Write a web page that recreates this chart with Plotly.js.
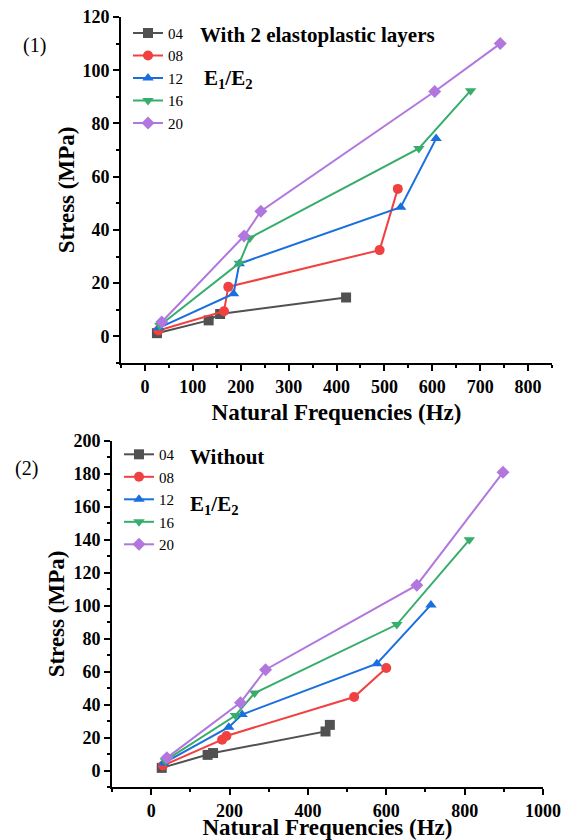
<!DOCTYPE html>
<html>
<head>
<meta charset="utf-8">
<script src="https://cdn.plot.ly/plotly-3.0.1.min.js"></script>
<style>html,body{margin:0;padding:0;background:#fff;}#chart{width:569px;height:840px;}</style>
</head>
<body>
<div id="chart"></div>
<script>
// ---- data: panel (1) with 2 elastoplastic layers ----
const seriesNames = ['04', '08', '12', '16', '20'];
const top04x = [25, 133, 157, 420];
const top04y = [1.2, 6, 8.4, 14.6];
const top08x = [28, 165, 174, 490, 528];
const top08y = [2.2, 9.4, 18.6, 32.4, 55.4];
const top12x = [29, 185, 197, 534, 608];
const top12y = [3.2, 16, 27.3, 48.5, 74.3];
const top16x = [31, 197, 219, 572, 680];
const top16y = [4.1, 27.5, 37, 70.6, 92.3];
const top20x = [35, 207, 242, 605, 742];
const top20y = [5.4, 37.7, 47, 92, 110];
// ---- data: panel (2) without ----
const bot04x = [27, 144, 158, 445, 456];
const bot04y = [1.6, 9.5, 10.6, 23.7, 27.7];
const bot08x = [30, 181, 192, 518, 600];
const bot08y = [3, 18.7, 21, 44.6, 62.2];
const bot12x = [32, 198, 232, 576, 714];
const bot12y = [4.5, 26.3, 34, 64.8, 100.5];
const bot16x = [36, 215, 264, 627, 812];
const bot16y = [6, 33.4, 47, 88.6, 140];
const bot20x = [40, 228, 292, 678, 898];
const bot20y = [7.7, 41.2, 61.2, 112.5, 181];

const colors = ['#515151', '#F14040', '#1A6FDF', '#37AD6B', '#B177DE'];
const symbols = ['square', 'circle', 'triangle-up', 'triangle-down', 'diamond'];

const topX = [top04x, top08x, top12x, top16x, top20x];
const topY = [top04y, top08y, top12y, top16y, top20y];
const botX = [bot04x, bot08x, bot12x, bot16x, bot20x];
const botY = [bot04y, bot08y, bot12y, bot16y, bot20y];

const traces = [];
for (let i = 0; i < 5; i++) {
  traces.push({
    x: topX[i], y: topY[i], name: seriesNames[i], type: 'scatter', mode: 'lines+markers',
    xaxis: 'x', yaxis: 'y', legend: 'legend',
    line: {color: colors[i], width: 2}, marker: {symbol: symbols[i], size: 10, color: colors[i]}
  });
}
for (let i = 0; i < 5; i++) {
  traces.push({
    x: botX[i], y: botY[i], name: seriesNames[i], type: 'scatter', mode: 'lines+markers',
    xaxis: 'x2', yaxis: 'y2', legend: 'legend2',
    line: {color: colors[i], width: 2}, marker: {symbol: symbols[i], size: 10, color: colors[i]}
  });
}

const serif = 'Liberation Serif';
const tickFont = {family: serif, size: 18, color: '#000', weight: 'bold'};
const titleFont = {family: serif, size: 23, color: '#000', weight: 'bold'};
const minorTicks = {ticks: 'outside', ticklen: 3, tickwidth: 2, tickcolor: '#000', tick0: 0};

function ax(extra) {
  return Object.assign({
    showline: true, linecolor: '#000', linewidth: 2, ticks: 'outside', ticklen: 6, tickwidth: 2,
    tickcolor: '#000', showgrid: false, zeroline: false, tickfont: tickFont, mirror: false
  }, extra);
}

const layout = {
  width: 569, height: 840, margin: {l: 0, r: 0, t: 0, b: 0},
  paper_bgcolor: '#fff', plot_bgcolor: '#fff',
  font: {family: serif, color: '#000'},
  xaxis: ax({domain: [0.2127, 0.9701], anchor: 'y', range: [-50, 850], dtick: 100, tick0: 0,
    minor: Object.assign({dtick: 50}, minorTicks),
    title: {text: 'Natural Frequencies (Hz)', font: titleFont, standoff: 8}}),
  yaxis: ax({domain: [0.5679, 0.9798], anchor: 'x', range: [-10, 120], dtick: 20, tick0: 0,
    minor: Object.assign({dtick: 10}, minorTicks),
    title: {text: 'Stress (MPa)', font: titleFont, standoff: 1}}),
  xaxis2: ax({domain: [0.1968, 0.9543], anchor: 'y2', range: [-100, 1000], dtick: 200, tick0: 0,
    minor: Object.assign({dtick: 100}, minorTicks),
    title: {text: 'Natural Frequencies (Hz)', font: titleFont, standoff: 6}}),
  yaxis2: ax({domain: [0.0631, 0.475], anchor: 'x2', range: [-10, 200], dtick: 20, tick0: 0,
    minor: Object.assign({dtick: 10}, minorTicks),
    title: {text: 'Stress (MPa)', font: titleFont, standoff: 2}}),
  legend: {x: 128 / 569, y: 0.9800, xanchor: 'left', yanchor: 'top', bgcolor: 'rgba(0,0,0,0)',
    font: {family: serif, size: 15, color: '#000'}, itemwidth: 30, tracegroupgap: 0},
  legend2: {x: 119 / 569, y: 0.4785, xanchor: 'left', yanchor: 'top', bgcolor: 'rgba(0,0,0,0)',
    font: {family: serif, size: 15, color: '#000'}, itemwidth: 30, tracegroupgap: 0},
  annotations: [
    {text: '(1)', xref: 'paper', yref: 'paper', x: 21 / 569, y: 1 - 45 / 840, xanchor: 'left', yanchor: 'middle',
      showarrow: false, font: {family: serif, size: 20, color: '#000'}},
    {text: 'With 2 elastoplastic layers', xref: 'paper', yref: 'paper', x: 198 / 569, y: 1 - 35 / 840,
      xanchor: 'left', yanchor: 'middle', showarrow: false, font: {family: serif, size: 21, color: '#000', weight: 'bold'}},
    {text: 'E<sub>1</sub>/E<sub>2</sub>', xref: 'paper', yref: 'paper', x: 202 / 569, y: 1 - 79 / 840,
      xanchor: 'left', yanchor: 'middle', showarrow: false, font: {family: serif, size: 21, color: '#000', weight: 'bold'}},
    {text: '(2)', xref: 'paper', yref: 'paper', x: 13 / 569, y: 1 - 468 / 840, xanchor: 'left', yanchor: 'middle',
      showarrow: false, font: {family: serif, size: 20, color: '#000'}},
    {text: 'Without', xref: 'paper', yref: 'paper', x: 188 / 569, y: 1 - 457 / 840,
      xanchor: 'left', yanchor: 'middle', showarrow: false, font: {family: serif, size: 21, color: '#000', weight: 'bold'}},
    {text: 'E<sub>1</sub>/E<sub>2</sub>', xref: 'paper', yref: 'paper', x: 188 / 569, y: 1 - 505 / 840,
      xanchor: 'left', yanchor: 'middle', showarrow: false, font: {family: serif, size: 21, color: '#000', weight: 'bold'}}
  ]
};

Plotly.newPlot('chart', traces, layout, {displayModeBar: false, responsive: false});
</script>
</body>
</html>
